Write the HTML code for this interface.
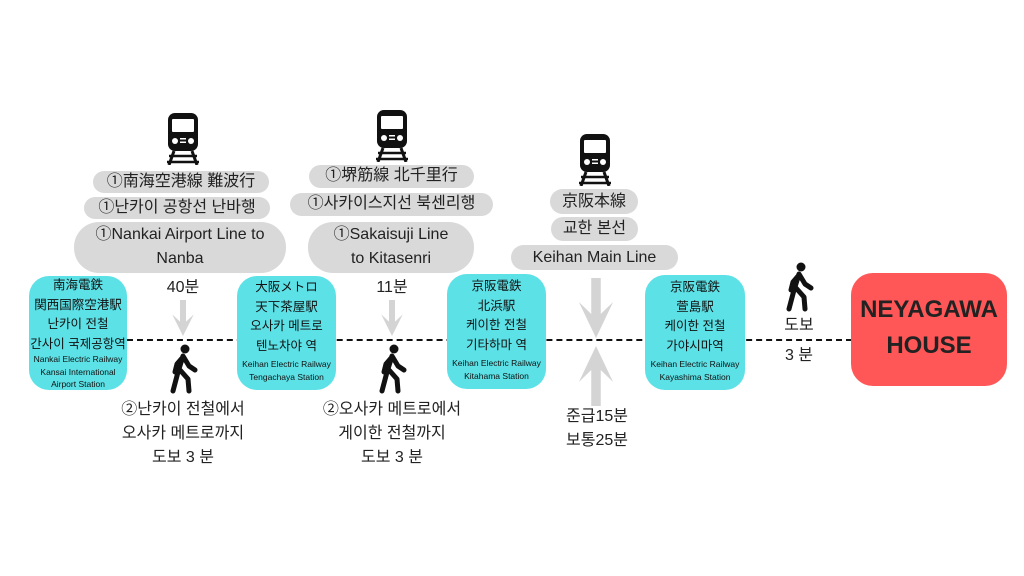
<!DOCTYPE html>
<html><head><meta charset="utf-8"><style>
body{margin:0;width:1024px;height:576px;background:#fff;position:relative;overflow:hidden;font-family:"Liberation Sans","Noto Sans CJK KR",sans-serif;color:#222}
.a{position:absolute}
.pill{position:absolute;background:#d9d9d9;border-radius:14px;text-align:center;font-size:16px;line-height:22px;color:#222}
.box{position:absolute;background:#5ce1e6;border-radius:20px;text-align:center;font-size:12.5px;line-height:19.5px;color:#111}
.box .en{font-size:8.5px;line-height:12.5px}
.t{position:absolute;text-align:center;font-size:16px;line-height:24px;color:#222;transform:translateX(-50%);white-space:nowrap}
svg.i{position:absolute}
</style></head><body>
<svg width="0" height="0" style="position:absolute">
<defs>
<symbol id="train" viewBox="0 0 36 52">
<rect x="3" y="0" width="30" height="38" rx="7" fill="#111"/>
<rect x="7" y="6" width="22" height="13" rx="1" fill="#fff"/>
<circle cx="10" cy="28" r="3" fill="#fff"/><circle cx="26" cy="28" r="3" fill="#fff"/>
<rect x="15" y="25" width="6" height="1.5" fill="#fff"/><rect x="15" y="28.5" width="6" height="1.5" fill="#fff"/>
<path d="M9 38 L4 52 M27 38 L32 52" stroke="#111" stroke-width="3"/>
<path d="M4 43 H32 M2 49 H34" stroke="#111" stroke-width="2.5"/>
</symbol>
<symbol id="walk" viewBox="0 0 30 50">
<circle cx="17" cy="5" r="4.5" fill="#111"/>
<path d="M15 12 L10 28 L5 47 M12 26 L20 35 L21 47 M15 12 L21 22 L27 26 M15 13 L9 20 L7 28" stroke="#111" stroke-width="5" stroke-linecap="round" stroke-linejoin="round" fill="none"/>
</symbol>
<symbol id="dn" viewBox="0 0 40 60" preserveAspectRatio="none">
<path d="M15 0 H25 V36 L38 24 L20 60 L2 24 L15 36 Z" fill="#d4d4d4"/>
</symbol>
</defs></svg>

<div class="a" style="left:127px;top:339px;width:725px;border-top:2px dashed #111"></div>

<svg class="i" style="left:165px;top:113px" width="36" height="52"><use href="#train"/></svg>
<svg class="i" style="left:374px;top:110px" width="36" height="52"><use href="#train"/></svg>
<svg class="i" style="left:577px;top:134px" width="36" height="52"><use href="#train"/></svg>

<div class="pill" style="left:93px;top:171px;width:176px;height:22px">①南海空港線 難波行</div>
<div class="pill" style="left:84px;top:197px;width:186px;height:22px">①난카이 공항선 난바행</div>
<div class="pill" style="left:74px;top:222px;width:212px;height:50px;border-radius:25px;line-height:24px;padding-top:1px">①Nankai Airport Line to<br>Nanba</div>
<div class="pill" style="left:309px;top:165px;width:165px;height:23px">①堺筋線 北千里行</div>
<div class="pill" style="left:290px;top:193px;width:203px;height:23px">①사카이스지선 북센리행</div>
<div class="pill" style="left:308px;top:222px;width:166px;height:50px;border-radius:25px;line-height:24px;padding-top:1px">①Sakaisuji Line<br>to Kitasenri</div>
<div class="pill" style="left:550px;top:189px;width:88px;height:25px;line-height:25px">京阪本線</div>
<div class="pill" style="left:551px;top:217px;width:87px;height:24px;line-height:24px">교한 본선</div>
<div class="pill" style="left:511px;top:245px;width:167px;height:25px;line-height:25px">Keihan Main Line</div>

<div class="box" style="left:29px;top:276px;width:98px;height:114px"><div style="padding-top:0">南海電鉄<br>関西国際空港駅<br>난카이 전철<br>간사이 국제공항역</div><div class="en" style="margin-top:-1px">Nankai Electric Railway<br>Kansai International<br>Airport Station</div></div>
<div class="box" style="left:237px;top:276px;width:99px;height:114px"><div style="padding-top:2px">大阪メトロ<br>天下茶屋駅<br>오사카 메트로<br>텐노차야 역</div><div class="en" style="padding-top:2px">Keihan Electric Railway<br>Tengachaya Station</div></div>
<div class="box" style="left:447px;top:274px;width:99px;height:115px"><div style="padding-top:3px">京阪電鉄<br>北浜駅<br>케이한 전철<br>기타하마 역</div><div class="en" style="padding-top:2px">Keihan Electric Railway<br>Kitahama Station</div></div>
<div class="box" style="left:645px;top:275px;width:100px;height:115px"><div style="padding-top:3px">京阪電鉄<br>萱島駅<br>케이한 전철<br>가야시마역</div><div class="en" style="padding-top:2px">Keihan Electric Railway<br>Kayashima Station</div></div>
<div class="a" style="left:851px;top:273px;width:156px;height:113px;background:#ff5757;border-radius:22px;text-align:center;font-weight:bold;font-size:24px;line-height:36px;color:#222;padding-top:19px;box-sizing:border-box">NEYAGAWA<br>HOUSE</div>

<div class="t" style="left:183px;top:276px">40분</div>
<svg class="i" style="left:171px;top:300px" width="24" height="36"><use href="#dn"/></svg>
<svg class="i" style="left:166px;top:344px" width="34" height="50"><use href="#walk"/></svg>
<div class="t" style="left:183px;top:398px">②난카이 전철에서<br>오사카 메트로까지<br>도보 3 분</div>
<div class="t" style="left:392px;top:276px">11분</div>
<svg class="i" style="left:380px;top:300px" width="24" height="36"><use href="#dn"/></svg>
<svg class="i" style="left:375px;top:344px" width="34" height="50"><use href="#walk"/></svg>
<div class="t" style="left:392px;top:398px">②오사카 메트로에서<br>게이한 전철까지<br>도보 3 분</div>
<svg class="i" style="left:577px;top:278px" width="38" height="60"><use href="#dn"/></svg>
<svg class="i" style="left:577px;top:346px;transform:scaleY(-1)" width="38" height="60"><use href="#dn"/></svg>
<div class="t" style="left:597px;top:405px">준급15분<br>보통25분</div>
<svg class="i" style="left:782px;top:262px" width="34" height="50"><use href="#walk"/></svg>
<div class="t" style="left:799px;top:314px">도보</div>
<div class="t" style="left:799px;top:344px">3 분</div>
</body></html>
